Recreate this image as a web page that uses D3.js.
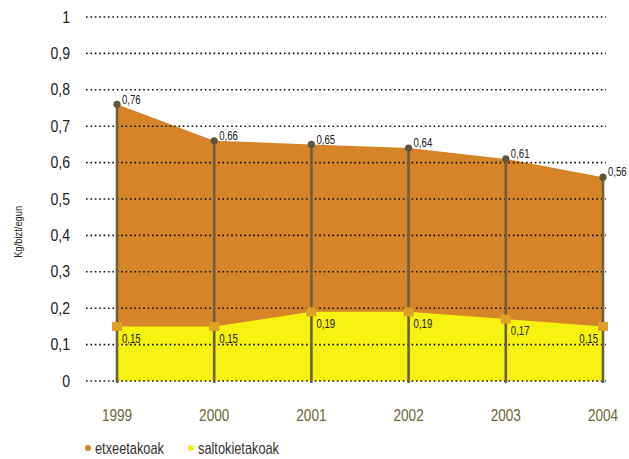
<!DOCTYPE html>
<html>
<head>
<meta charset="utf-8">
<script src="https://cdn.jsdelivr.net/npm/d3@7"></script>
<style>
  body { margin: 0; background: #fff; }
  text { font-family: 'Liberation Sans', Arial, sans-serif; }
</style>
</head>
<body>
<div class="canvas"></div>
<script>
// data
const years = ['1999', '2000', '2001', '2002', '2003', '2004'];
const etxeetakoak = [0.76, 0.66, 0.65, 0.64, 0.61, 0.56];
const saltokietakoak = [0.15, 0.15, 0.19, 0.19, 0.17, 0.15];
const yTicks = [0, 0.1, 0.2, 0.3, 0.4, 0.5, 0.6, 0.7, 0.8, 0.9, 1];

const width = 629, height = 459;
const margin = { top: 17, right: 26, bottom: 78, left: 117 };

const svg = d3.select('.canvas')
  .append('svg')
    .attr('width', width)
    .attr('height', height);

// scales
const x = d3.scalePoint()
  .domain(years)
  .range([margin.left, width - margin.right]);

const y = d3.scaleLinear()
  .domain([0, 1])
  .range([height - margin.bottom, margin.top]);

const fmt = v => d3.format('.2f')(v).replace('.', ',');
const fmtTick = v => v === 0 || v === 1 ? String(v) : String(v).replace('.', ',');

// narrow text: squeeze horizontally to mimic a condensed face
const narrow = (px, py, sx) => `translate(${px},${py}) scale(${sx},1)`;

// areas
const area = d3.area()
  .x((d, i) => x(years[i]))
  .y0(y(0))
  .y1(d => y(d));

svg.append('path')
  .datum(etxeetakoak)
  .attr('fill', '#d58528')
  .attr('d', area);

svg.append('path')
  .datum(saltokietakoak)
  .attr('fill', '#f6f10e')
  .attr('d', area);

// dotted gridlines over the areas
svg.append('g')
  .selectAll('line')
  .data(yTicks)
  .enter()
  .append('line')
    .attr('x1', 86)
    .attr('x2', 606)
    .attr('y1', d => y(d))
    .attr('y2', d => y(d))
    .attr('stroke', '#111')
    .attr('stroke-width', 1.6)
    .attr('stroke-dasharray', '1.6,2.8');

// y tick labels
svg.append('g')
  .selectAll('text')
  .data(yTicks)
  .enter()
  .append('text')
    .attr('transform', d => narrow(70, y(d), 0.88))
    .attr('dy', '0.35em')
    .attr('text-anchor', 'end')
    .attr('font-size', '16px')
    .attr('fill', '#222')
    .text(fmtTick);

// y axis title
svg.append('text')
  .attr('transform', `translate(22,${y(0.41)}) rotate(-90) scale(0.85,1)`)
  .attr('text-anchor', 'middle')
  .attr('font-size', '11px')
  .attr('fill', '#222')
  .text('Kg/bizt/egun');

// vertical drop lines
svg.append('g')
  .selectAll('line')
  .data(etxeetakoak)
  .enter()
  .append('line')
    .attr('x1', (d, i) => x(years[i]))
    .attr('x2', (d, i) => x(years[i]))
    .attr('y1', d => y(d))
    .attr('y2', y(0) + 2)
    .attr('stroke', '#6b5f45')
    .attr('stroke-width', 2.6);

// top markers
svg.append('g')
  .selectAll('circle')
  .data(etxeetakoak)
  .enter()
  .append('circle')
    .attr('cx', (d, i) => x(years[i]))
    .attr('cy', d => y(d))
    .attr('r', 3.6)
    .attr('fill', '#5e5540');

svg.append('g')
  .selectAll('text')
  .data(etxeetakoak)
  .enter()
  .append('text')
    .attr('transform', (d, i) => narrow(x(years[i]) + 5, y(d) - 5, 0.8))
    .attr('dy', '0.35em')
    .attr('font-size', '12px')
    .attr('fill', '#222')
    .text(fmt);

// bottom markers
svg.append('g')
  .selectAll('rect')
  .data(saltokietakoak)
  .enter()
  .append('rect')
    .attr('x', (d, i) => x(years[i]) - 5)
    .attr('y', d => y(d) - 4.5)
    .attr('width', 10)
    .attr('height', 9)
    .attr('fill', '#dca126');

svg.append('g')
  .selectAll('text')
  .data(saltokietakoak)
  .enter()
  .append('text')
    .attr('transform', (d, i) => narrow(i === years.length - 1 ? x(years[i]) - 5 : x(years[i]) + 5, y(d) + 12, 0.8))
    .attr('dy', '0.35em')
    .attr('text-anchor', (d, i) => i === years.length - 1 ? 'end' : 'start')
    .attr('font-size', '12px')
    .attr('fill', '#222')
    .text(fmt);

// x labels
svg.append('g')
  .selectAll('text')
  .data(years)
  .enter()
  .append('text')
    .attr('transform', d => narrow(x(d), 415, 0.85))
    .attr('dy', '0.35em')
    .attr('text-anchor', 'middle')
    .attr('font-size', '16px')
    .attr('fill', '#6b6838')
    .text(d => d);

// legend
const legend = [
  { name: 'etxeetakoak', color: '#d58528', x: 88 },
  { name: 'saltokietakoak', color: '#f6f10e', x: 191 }
];

const lg = svg.append('g')
  .selectAll('g')
  .data(legend)
  .enter()
  .append('g')
    .attr('transform', d => `translate(${d.x},448)`);

lg.append('circle')
  .attr('r', 3)
  .attr('fill', d => d.color);

lg.append('text')
  .attr('transform', narrow(7, 0, 0.8))
  .attr('dy', '0.35em')
  .attr('font-size', '16px')
  .attr('fill', '#333')
  .text(d => d.name);
</script>
</body>
</html>
